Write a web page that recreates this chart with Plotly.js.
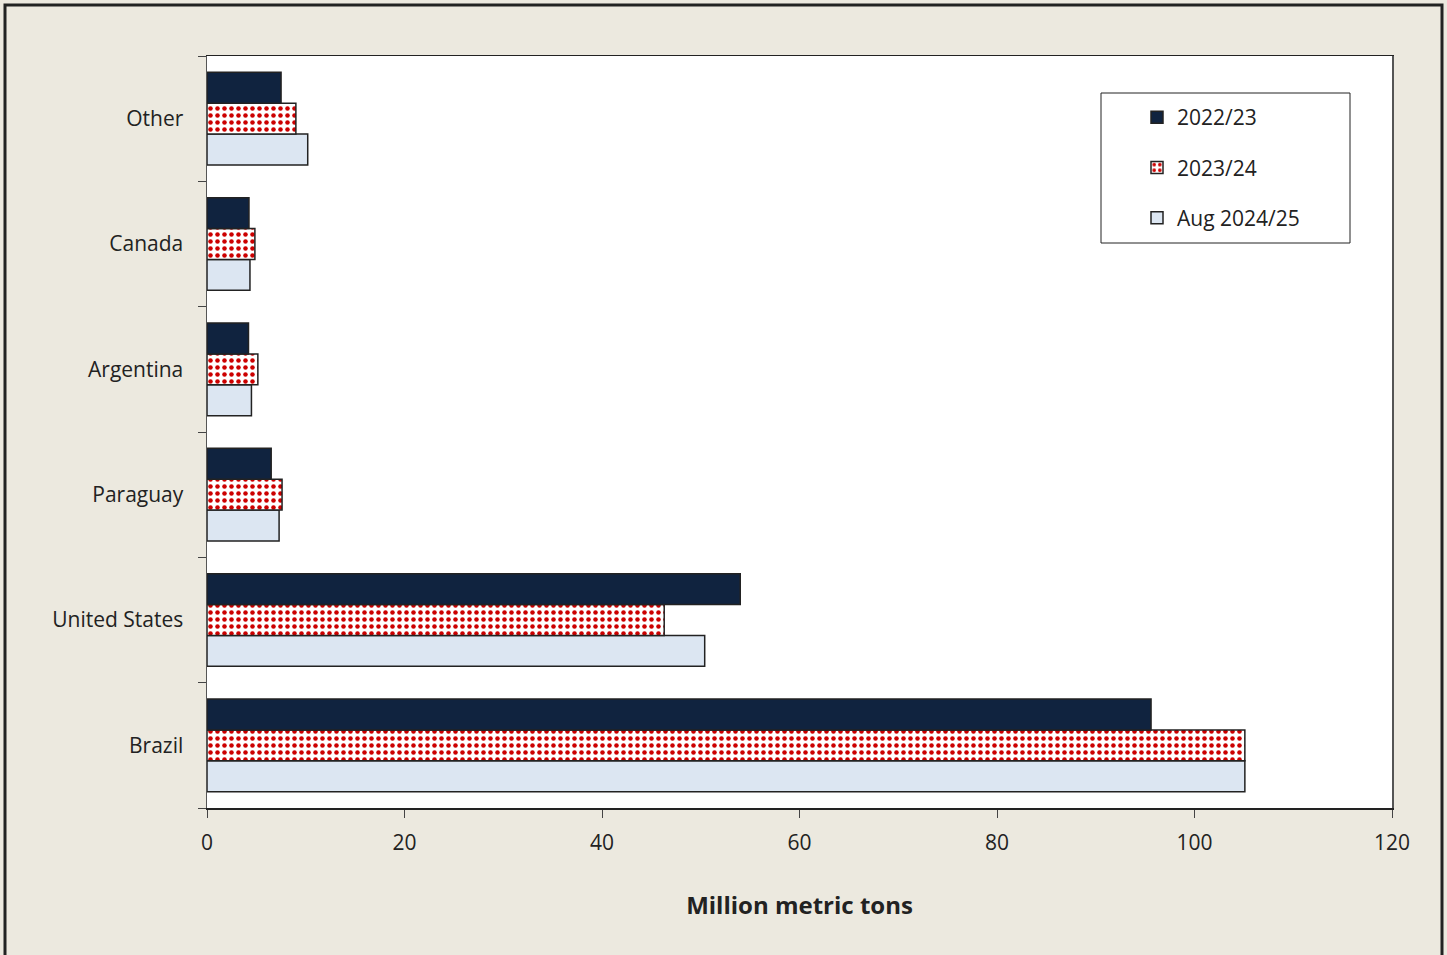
<!DOCTYPE html>
<html>
<head>
<meta charset="utf-8">
<script src="https://cdn.plot.ly/plotly-3.0.1.min.js"></script>
<style>html,body{margin:0;padding:0;background:#ECE9DF;}#chart{width:1447px;height:955px;}</style>
</head>
<body>
<div id="chart"></div>
<script>
// Categories bottom-to-top
const countries = ["Brazil", "United States", "Paraguay", "Argentina", "Canada", "Other"];
const seriesNames = ["2022/23", "2023/24", "Aug 2024/25"];
const v2022 = [95.6, 54.0, 6.5, 4.2, 4.25, 7.5];
const v2023 = [105.1, 46.3, 7.6, 5.15, 4.85, 9.0];
const v2024 = [105.1, 50.4, 7.3, 4.5, 4.35, 10.2];
const xTicks = [0, 20, 40, 60, 80, 100, 120];

const FONT = "'Open Sans', Lato, sans-serif";
const outline = {color: "#222222", width: 1.5};

// Order reversed so that 2022/23 sits on top within each group
const traces = [
  {type: "bar", orientation: "h", name: seriesNames[2], y: countries, x: v2024,
   legendgroup: "c", legendrank: 3, marker: {color: "#DCE6F2", line: outline}},
  {type: "bar", orientation: "h", name: seriesNames[1], y: countries, x: v2023,
   legendgroup: "b", legendrank: 2, marker: {color: "#FFFFFF", line: outline,
     pattern: {shape: ".", fgcolor: "#CC0000", bgcolor: "#FFFFFF", fgopacity: 1, size: 7, solidity: 0.33, fillmode: "replace"}}},
  {type: "bar", orientation: "h", name: seriesNames[0], y: countries, x: v2022,
   legendgroup: "a", legendrank: 1, marker: {color: "#10233F", line: outline}}
];

const W = 1447, H = 955, L = 207, R = 55, T = 56, B = 147;
const pw = W - L - R, ph = H - T - B;
const px = v => (v - L) / pw;
const py = v => (H - B - v) / ph;

const layout = {
  width: W, height: H,
  margin: {l: L, r: R, t: T, b: B, pad: 0},
  paper_bgcolor: "#ECE9DF",
  plot_bgcolor: "#FFFFFF",
  font: {family: FONT, size: 21, color: "#222222"},
  barmode: "group",
  bargap: 0.26,
  bargroupgap: 0,
  showlegend: true,
  legend: {
    x: px(1137), y: py(97), xanchor: "left", yanchor: "top",
    bgcolor: "rgba(0,0,0,0)", borderwidth: 0,
    traceorder: "grouped", tracegroupgap: 20,
    font: {family: FONT, size: 21, color: "#222222"}
  },
  xaxis: {
    range: [0, 120], tickvals: xTicks, ticktext: xTicks.map(String),
    showgrid: false, zeroline: false,
    showline: true, linecolor: "#222222", linewidth: 1.5, mirror: true,
    ticks: "outside", ticklen: 8, tickcolor: "#444444", tickwidth: 1,
    ticklabelstandoff: 7,
    title: {text: "<b>Million metric tons</b>", font: {family: FONT, size: 24, color: "#222222"}, standoff: 42}
  },
  yaxis: {
    type: "category", categoryorder: "array", categoryarray: countries,
    showgrid: false, zeroline: false,
    showline: true, linecolor: "#555555", linewidth: 1.5, mirror: true,
    ticks: "outside", ticklen: 8, tickcolor: "#444444", tickwidth: 1,
    tickson: "boundaries", ticklabelstandoff: 18
  },
  shapes: [
    {type: "rect", xref: "paper", yref: "paper", x0: px(5), x1: px(1442), y0: py(975), y1: py(5),
     line: {color: "#222222", width: 3}, fillcolor: "rgba(0,0,0,0)", layer: "below"},
    {type: "rect", xref: "paper", yref: "paper", x0: px(1101), x1: px(1350), y0: py(243), y1: py(93),
     line: {color: "#222222", width: 1}, fillcolor: "#FFFFFF", layer: "above"}
  ]
};

Plotly.newPlot("chart", traces, layout, {displayModeBar: false, staticPlot: true});
</script>
</body>
</html>
